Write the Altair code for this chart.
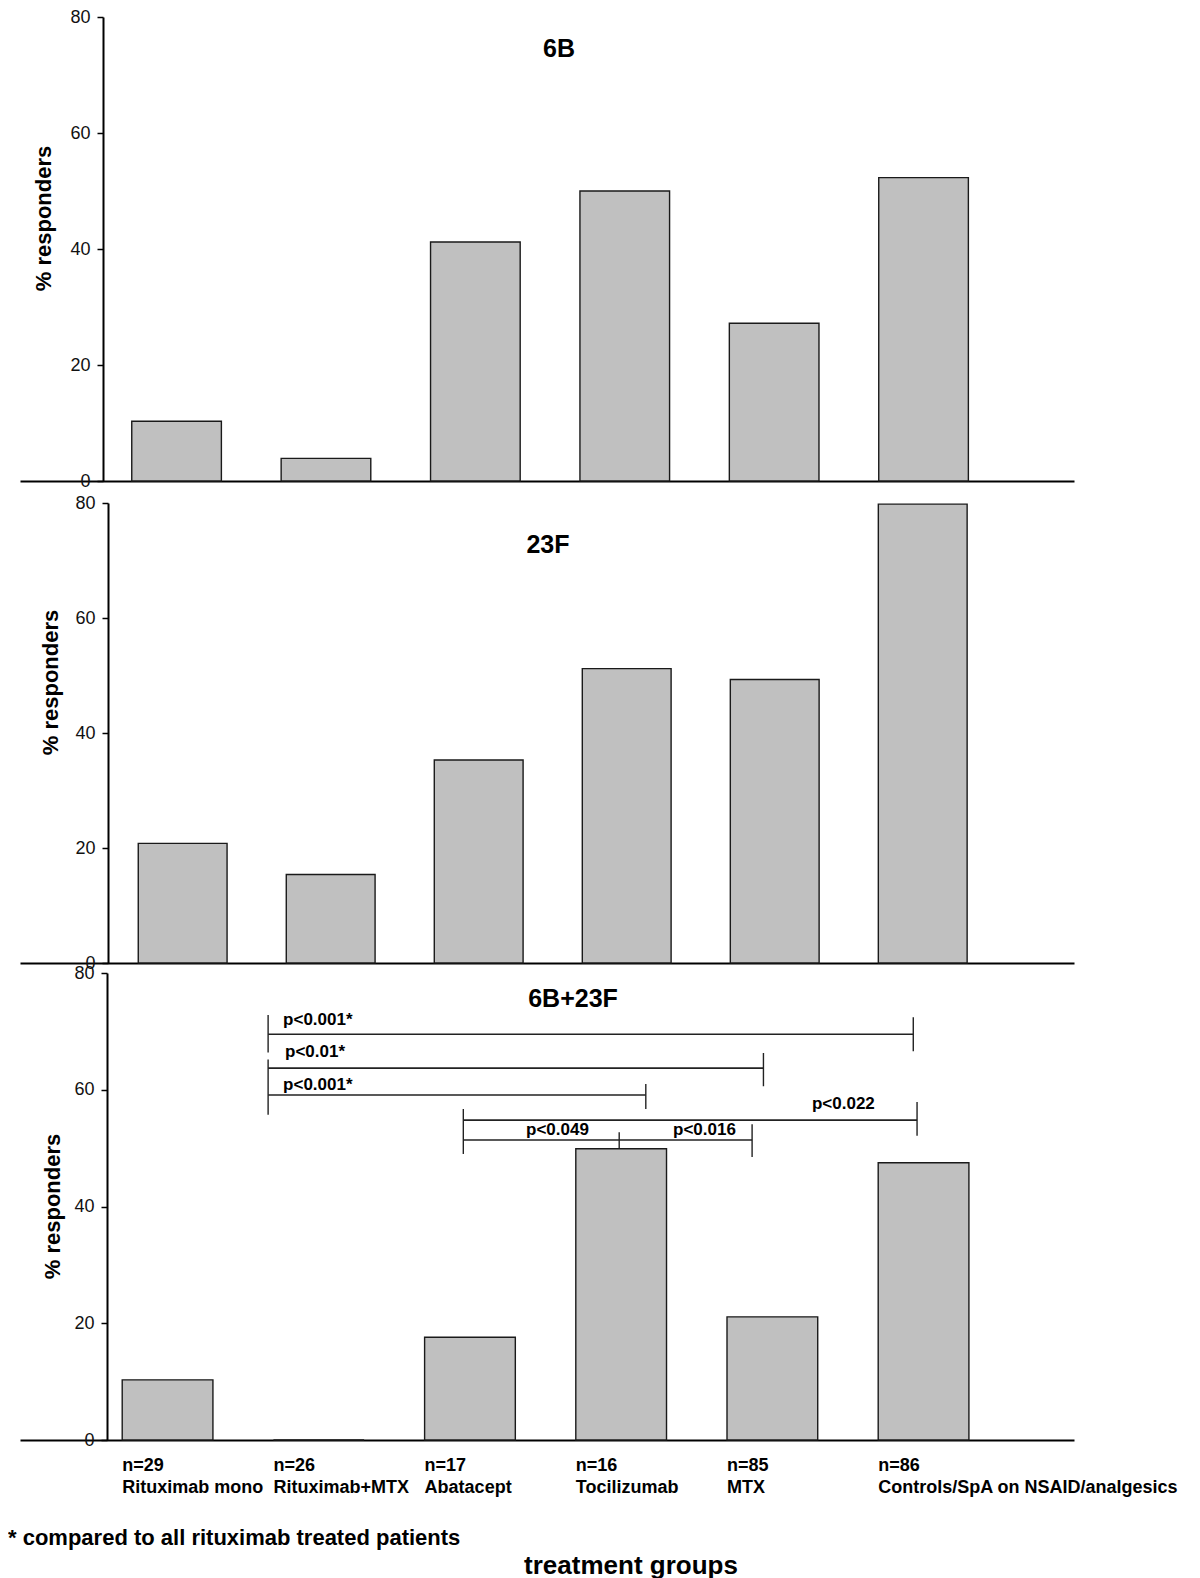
import altair as alt
import pandas as pd

FONT = "Liberation Sans"

categories = ["Rituximab mono", "Rituximab+MTX", "Abatacept", "Tocilizumab", "MTX",
              "Controls/SpA on NSAID/analgesics"]
n_labels = ["n=29", "n=26", "n=17", "n=16", "n=85", "n=86"]
resp_6B = [10.3, 3.9, 41.2, 50.0, 27.2, 52.3]
resp_23F = [20.8, 15.4, 35.3, 51.2, 49.3, 79.8]
resp_both = [10.3, 0.0, 17.6, 49.9, 21.1, 47.5]

# significance brackets (bottom panel), in group-index / % units
br_x1 = [0.665, 0.665, 0.665, 1.956, 1.956]
br_x2 = [4.932, 3.941, 3.163, 4.957, 3.866]
br_y = [69.5, 63.7, 59.1, 54.8, 51.4]
tk_x = [0.665, 0.665, 4.932, 3.941, 3.163, 1.956, 4.957, 3.866, 2.987]
tk_y1 = [72.8, 65.2, 72.4, 66.3, 61.0, 56.7, 57.9, 54.1, 52.7]
tk_y2 = [66.4, 55.7, 66.6, 60.6, 56.7, 49.0, 52.1, 48.5, 50.0]
p_text = ["p<0.001*", "p<0.01*", "p<0.001*", "p<0.022", "p<0.049", "p<0.016"]
p_x = [0.764, 0.777, 0.764, 4.262, 2.371, 3.343]
p_y = [71.1, 65.6, 59.9, 56.7, 52.2, 52.2]

W = 1054
ys = alt.Scale(domain=[0, 80], nice=False, zero=True)


def panel(values, title, dom, H, ax_off, t_x, t_y, title_px, title_py, extra=None):
    xs = alt.Scale(domain=dom, nice=False, zero=False)
    df = pd.DataFrame({"cat": categories, "idx": list(range(6)), "v": values})
    bars = alt.Chart(df).transform_calculate(
        xl="datum.idx - 0.3", xr="datum.idx + 0.3"
    ).mark_bar(fill="#c0c0c0", stroke="#1a1a1a", strokeWidth=1.4).encode(
        x=alt.X("xl:Q", scale=xs,
                axis=alt.Axis(labels=False, ticks=False, grid=False, title=None,
                              domainColor="black", domainWidth=2)),
        x2="xr:Q",
        y=alt.Y("v:Q", scale=ys,
                axis=alt.Axis(values=[0, 20, 40, 60, 80], offset=ax_off, grid=False,
                              title="% responders", titleFont=FONT, titleFontSize=22,
                              titleFontWeight="bold", titleColor="black",
                              titleX=t_x, titleY=t_y, titleBaseline="middle",
                              titleAngle=270, titleAlign="center",
                              labelFont=FONT, labelFontSize=18, labelColor="#111",
                              labelPadding=7, tickSize=6, tickWidth=1.5,
                              tickColor="black", domainColor="black", domainWidth=2)),
        y2=alt.datum(0),
    )
    ttl = alt.Chart(pd.DataFrame({"t": [title]})).mark_text(
        font=FONT, fontSize=25, fontWeight="bold", align="center",
        baseline="middle", color="black"
    ).encode(text="t:N", x=alt.value(title_px), y=alt.value(title_py))
    layers = [bars, ttl]
    if extra:
        layers += extra(xs, H)
    return alt.layer(*layers).properties(width=W, height=H)


def bottom_extra(xs, H):
    hdf = pd.DataFrame({"x1": br_x1, "x2": br_x2, "y": br_y})
    hl = alt.Chart(hdf).mark_rule(color="#222", strokeWidth=1.6).encode(
        x=alt.X("x1:Q", scale=xs), x2="x2:Q",
        y=alt.Y("y:Q", scale=ys))
    vdf = pd.DataFrame({"x": tk_x, "y1": tk_y1, "y2": tk_y2})
    vl = alt.Chart(vdf).mark_rule(color="#222", strokeWidth=1.4).encode(
        x=alt.X("x:Q", scale=xs),
        y=alt.Y("y1:Q", scale=ys), y2="y2:Q")
    pdf = pd.DataFrame({"t": p_text, "x": p_x, "y": p_y})
    pt = alt.Chart(pdf).mark_text(font=FONT, fontSize=17, fontWeight="bold",
                                  align="left", baseline="alphabetic",
                                  color="black").encode(
        x=alt.X("x:Q", scale=xs),
        y=alt.Y("y:Q", scale=ys), text="t:N")
    ldf = pd.DataFrame({"cat": categories, "n": n_labels, "idx": list(range(6))})
    lbase = alt.Chart(ldf).transform_calculate(xl="datum.idx - 0.3")
    nl = lbase.mark_text(font=FONT, fontSize=18, fontWeight="bold", align="left",
                         baseline="alphabetic", color="black").encode(
        x=alt.X("xl:Q", scale=xs), y=alt.value(H + 31), text="n:N")
    cl = lbase.mark_text(font=FONT, fontSize=18, fontWeight="bold", align="left",
                         baseline="alphabetic", color="black").encode(
        x=alt.X("xl:Q", scale=xs), y=alt.value(H + 53), text="cat:N")
    foot = alt.Chart(pd.DataFrame({"t": ["* compared to all rituximab treated patients"]})).mark_text(
        font=FONT, fontSize=22, fontWeight="bold", align="left",
        baseline="alphabetic", color="black"
    ).encode(text="t:N", x=alt.value(-12), y=alt.value(H + 105))
    xt = alt.Chart(pd.DataFrame({"t": ["treatment groups"]})).mark_text(
        font=FONT, fontSize=26, fontWeight="bold", align="center",
        baseline="alphabetic", color="black"
    ).encode(text="t:N", x=alt.value(611), y=alt.value(H + 134))
    return [hl, vl, pt, nl, cl, foot, xt]


top = panel(resp_6B, "6B", [-1.048, 6.007], 464, -83, -59.5, 201, 539, 32)
mid = panel(resp_23F, "23F", [-1.099, 6.022], 460, -88, -58, 179, 528, 42)
bot = panel(resp_both, "6B+23F", [-0.976, 5.995], 467, -87, -54.5, 233, 553, 26,
            extra=bottom_extra)

chart = alt.vconcat(
    top,
    alt.vconcat(mid, bot, spacing=10, bounds="flush"),
    spacing=22, bounds="flush",
).properties(padding=0).configure_view(stroke=None)

chart.save("out.html", embed_options={"renderer": "svg", "actions": False})
